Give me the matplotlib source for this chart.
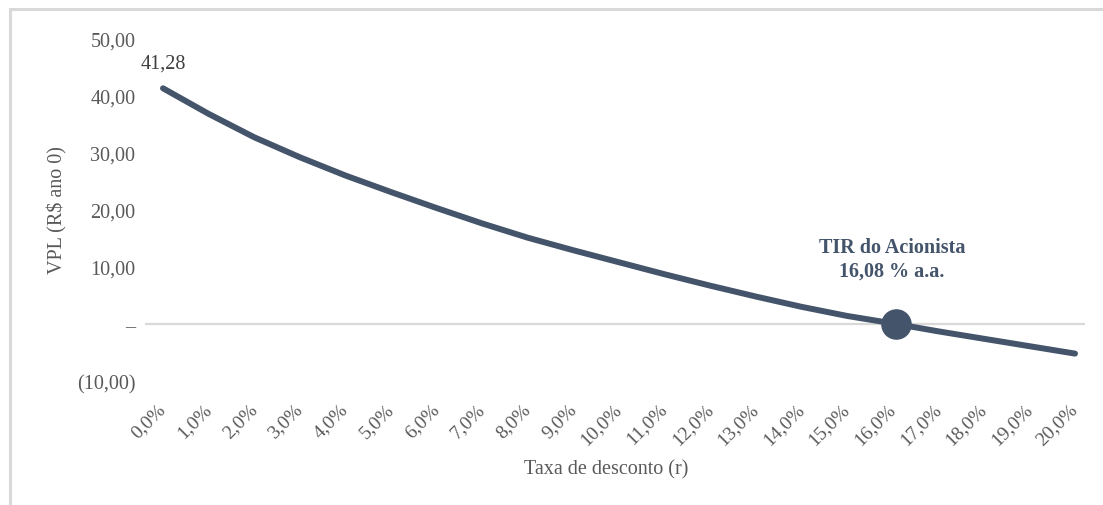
import matplotlib
matplotlib.use("Agg")
import matplotlib.pyplot as plt
from matplotlib.patches import Rectangle

# ---- data ----
rates = list(range(0, 21))  # taxa de desconto (%)
rate_labels = [f"{r},0%" for r in rates]
vpl = [41.28, 36.8, 32.7, 29.2, 26.0, 23.1, 20.3, 17.6, 15.1, 12.9, 10.8,
       8.7, 6.7, 4.8, 3.0, 1.4, 0.1, -1.3, -2.6, -3.9, -5.2]
tir_rate = 16.08
tir_vpl = 0.0
y_ticks = [-10, 0, 10, 20, 30, 40, 50]
y_tick_labels = ["(10,00)", "–", "10,00", "20,00", "30,00", "40,00", "50,00"]

LINE = "#44546A"
GRAY_TXT = "#595959"
FONT = ["Liberation Serif", "DejaVu Serif"]
plt.rcParams["font.family"] = FONT

W, H = 1103, 506
fig = plt.figure(figsize=(W / 100, H / 100), dpi=100)

# outer chart frame (light gray)
fig.patches.append(Rectangle((10 / W, -0.05), 1.2, (H - 10) / H + 0.05,
                             transform=fig.transFigure, fill=False,
                             edgecolor="#D9D9D9", linewidth=2.2))

ax = fig.add_axes([145 / W, 1 - 382 / H, (1085 - 145) / W, (382 - 39.5) / H])
ax.set_xlim(-18 / 45.6, 20 + 10 / 45.6)
ax.set_ylim(-10, 50)
for s in ax.spines.values():
    s.set_visible(False)

ax.axhline(0, color="#D9D9D9", linewidth=1.6, zorder=1)
ax.plot(rates, vpl, color=LINE, linewidth=4.3, solid_capstyle="round", zorder=3)
ax.plot([tir_rate], [tir_vpl], marker="o", markersize=21, color=LINE,
        markeredgecolor=LINE, zorder=4)

ax.set_yticks(y_ticks)
ax.set_yticklabels(y_tick_labels, fontsize=14.5, color=GRAY_TXT)
ax.set_xticks(rates)
ax.set_xticklabels(rate_labels, fontsize=14, color=GRAY_TXT, rotation=45,
                   ha="right", va="center", rotation_mode="anchor")
ax.tick_params(axis="y", length=0, pad=7)
ax.tick_params(axis="x", length=0, pad=18)

ax.annotate("41,28", xy=(rates[0], vpl[0]), xytext=(0, 18),
            textcoords="offset points", ha="center", va="center",
            fontsize=14.5, color="#404040")
ax.annotate("TIR do Acionista\n16,08 % a.a.", xy=(tir_rate, tir_vpl),
            xytext=(-3, 47), textcoords="offset points", ha="center",
            va="center", fontsize=14.5, fontweight="bold", color=LINE,
            linespacing=1.25)

fig.text(57 / W, 1 - 210 / H, "VPL (R$ ano 0)", rotation=90, ha="center",
         va="center", fontsize=14.5, color=GRAY_TXT)
fig.text(606 / W, 1 - 470 / H, "Taxa de desconto (r)", ha="center",
         va="center", fontsize=14.5, color=GRAY_TXT)

fig.savefig("out.png", dpi=100, facecolor="white")
